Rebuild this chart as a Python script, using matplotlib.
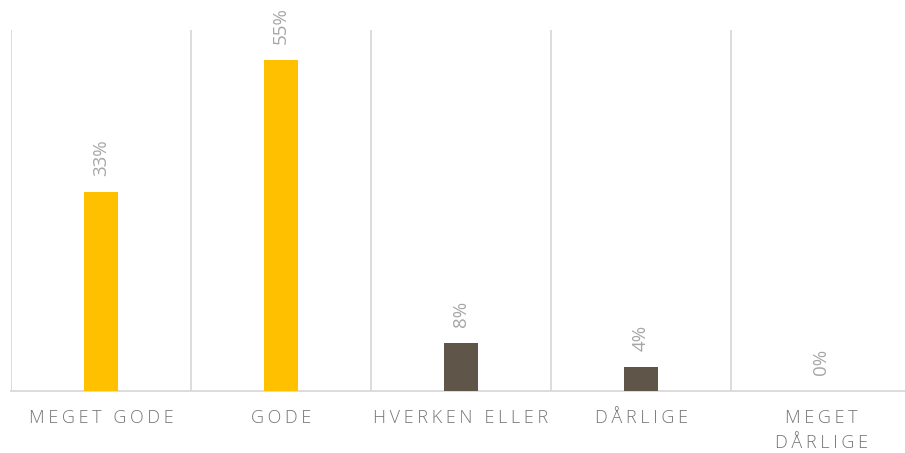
import matplotlib.pyplot as plt

plt.rcParams['font.family'] = ['Open Sans', 'DejaVu Sans']

categories = ['MEGET GODE', 'GODE', 'HVERKEN ELLER', 'DÅRLIGE', 'MEGET\nDÅRLIGE']
values = [33, 55, 8, 4, 0]
labels = ['33%', '55%', '8%', '4%', '0%']
colors = ['#FFC000', '#FFC000', '#5F5548', '#5F5548', '#5F5548']


def spaced(s):
    # fake letter spacing like the office chart
    return '\n'.join('\u2009'.join(line) for line in s.split('\n'))


fig = plt.figure(figsize=(9.05, 4.53), dpi=100)
ax = fig.add_axes([11 / 905, 62 / 453, 900 / 905, 361 / 453])

x = list(range(len(categories)))
ax.bar(x, values, width=0.19, color=colors, zorder=3)

for xi, v, lab in zip(x, values, labels):
    ax.annotate(lab, (xi, v), xytext=(0, 11.5), textcoords='offset points',
                rotation=90, ha='center', va='bottom', fontsize=13.5,
                color='#A6A6A6')

ax.set_xlim(-0.5, len(categories) - 0.5)
ax.set_ylim(0, 60)
ax.set_yticks([])

# vertical separators between categories
for b in range(len(categories) + 1):
    ax.axvline(b - 0.5, color='#D9D9D9', lw=1.3, zorder=1)

ax.set_xticks(x)
ax.set_xticklabels([spaced(c) for c in categories], fontsize=13,
                   color='#767676', linespacing=1.5, fontweight='light')
ax.tick_params(axis='x', length=0, pad=13)

for side in ['top', 'right', 'left']:
    ax.spines[side].set_visible(False)
ax.spines['bottom'].set_color('#D9D9D9')
ax.spines['bottom'].set_linewidth(1.3)

fig.savefig('out.png', dpi=100)
